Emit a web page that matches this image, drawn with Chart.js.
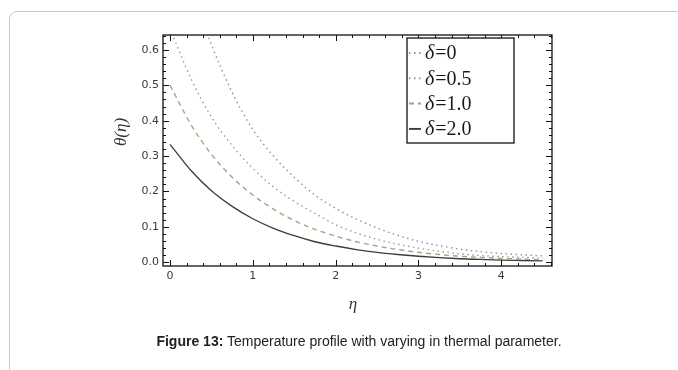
<!DOCTYPE html>
<html>
<head>
<meta charset="utf-8">
<script src="https://cdn.jsdelivr.net/npm/chart.js@4/dist/chart.umd.min.js"></script>
<style>
  body { margin: 0; background: #fff; }
  #wrap { position: relative; width: 678px; height: 370px; overflow: hidden; }
  #card { position: absolute; left: 9px; top: 11px; width: 700px; height: 400px;
          border: 1px solid #c9c9c9; border-radius: 8px; }
  #chart { position: absolute; left: 0; top: 0; }
  #caption { position: absolute; left: 20px; width: 678px; top: 333px; text-align: center;
             font-family: 'Liberation Sans', Arial, sans-serif; font-size: 14px; color: #222; }
</style>
</head>
<body>
<div id="wrap">
  <div id="card"></div>
  <canvas id="chart" width="678" height="370"></canvas>
  <div id="caption"><b>Figure 13:</b> Temperature profile with varying in thermal parameter.</div>
</div>
<script>
// eta samples and theta values
const etaValues = [0, 0.25, 0.5, 0.75, 1.0, 1.25, 1.5, 1.75, 2.0, 2.25, 2.5, 2.75, 3.0, 3.25, 3.5, 3.75, 4.0, 4.25, 4.5];
const thetaD0  = [1.0, 0.78, 0.615, 0.48, 0.375, 0.30, 0.24, 0.19, 0.152, 0.122, 0.097, 0.076, 0.059, 0.047, 0.037, 0.030, 0.025, 0.021, 0.018];
const thetaD05 = [0.66, 0.52, 0.41, 0.33, 0.265, 0.213, 0.172, 0.138, 0.106, 0.083, 0.065, 0.051, 0.040, 0.031, 0.024, 0.019, 0.016, 0.014, 0.012];
const thetaD10 = [0.50, 0.39, 0.305, 0.24, 0.19, 0.15, 0.118, 0.093, 0.074, 0.058, 0.046, 0.036, 0.028, 0.022, 0.017, 0.014, 0.011, 0.009, 0.007];
const thetaD20 = [0.333, 0.26, 0.202, 0.158, 0.123, 0.096, 0.075, 0.058, 0.046, 0.036, 0.028, 0.022, 0.017, 0.013, 0.010, 0.008, 0.006, 0.005, 0.004];
const seriesLabels = ['δ=0', 'δ=0.5', 'δ=1.0', 'δ=2.0'];
const xTickValues = [0, 1, 2, 3, 4];
const yTickValues = [0, 0.1, 0.2, 0.3, 0.4, 0.5, 0.6];

function points(ys) {
    return etaValues.map((x, i) => ({ x: x, y: ys[i] }));
}

const framePlugin = {
    id: 'frame',
    afterDraw(chart) {
        const ctx = chart.ctx;
        const a = chart.chartArea;
        const xs = chart.scales.x;
        const ys = chart.scales.y;
        ctx.save();
        ctx.strokeStyle = '#111';
        ctx.lineWidth = 1.3;
        ctx.strokeRect(a.left, a.top, a.right - a.left, a.bottom - a.top);

        // inward ticks on all four sides
        ctx.lineWidth = 1;
        ctx.beginPath();
        for (let i = 0; i <= 23; i++) {
            const px = Math.round(xs.getPixelForValue(i * 0.2)) + 0.5;
            const len = i % 5 === 0 ? 6 : 3;
            ctx.moveTo(px, a.bottom); ctx.lineTo(px, a.bottom - len);
            ctx.moveTo(px, a.top); ctx.lineTo(px, a.top + len);
        }
        for (let i = 0; i <= 32; i++) {
            const py = Math.round(ys.getPixelForValue(i * 0.02)) + 0.5;
            const len = i % 5 === 0 ? 6 : 3;
            ctx.moveTo(a.left, py); ctx.lineTo(a.left + len, py);
            ctx.moveTo(a.right, py); ctx.lineTo(a.right - len, py);
        }
        ctx.stroke();

        // axis titles
        ctx.fillStyle = '#333';
        ctx.font = 'italic 17px "Liberation Serif", serif';
        ctx.textAlign = 'center';
        ctx.textBaseline = 'middle';
        ctx.fillText('η', 353, 305);
        ctx.translate(122, 132);
        ctx.rotate(-Math.PI / 2);
        ctx.fillText('θ(η)', 0, 0);
        ctx.restore();

        // legend box
        ctx.save();
        ctx.fillStyle = '#fff';
        ctx.fillRect(407, 38, 107, 105);
        ctx.strokeStyle = '#111';
        ctx.lineWidth = 1.3;
        ctx.strokeRect(407, 38, 107, 105);
        chart.data.datasets.forEach((ds, i) => {
            const y = 53 + i * 25.3;
            ctx.strokeStyle = ds.borderColor;
            ctx.lineWidth = ds.borderWidth + 0.6;
            ctx.setLineDash(ds.borderDash || []);
            ctx.beginPath();
            ctx.moveTo(409, y); ctx.lineTo(421, y);
            ctx.stroke();
            ctx.setLineDash([]);
            ctx.fillStyle = '#1a1a1a';
            ctx.textAlign = 'left';
            ctx.textBaseline = 'middle';
            const sym = ds.label.slice(0, 1);
            const rest = ds.label.slice(1);
            ctx.font = 'italic 20px "Liberation Serif", serif';
            ctx.fillText(sym, 425, y + 1);
            const w = ctx.measureText(sym).width;
            ctx.font = '20px "Liberation Serif", serif';
            ctx.fillText(rest, 425 + w + 1, y + 1);
        });
        ctx.restore();
    }
};

new Chart(document.getElementById('chart'), {
    type: 'line',
    data: {
        datasets: [{
            label: seriesLabels[0],
            data: points(thetaD0),
            borderColor: '#8f8f9f',
            borderWidth: 1.4,
            borderDash: [1.5, 3.5],
            pointRadius: 0,
            cubicInterpolationMode: 'monotone'
        }, {
            label: seriesLabels[1],
            data: points(thetaD05),
            borderColor: '#9c9c9c',
            borderWidth: 1.4,
            borderDash: [1.5, 3.5],
            pointRadius: 0,
            cubicInterpolationMode: 'monotone'
        }, {
            label: seriesLabels[2],
            data: points(thetaD10),
            borderColor: '#aaa27f',
            borderWidth: 1.4,
            borderDash: [5, 4],
            pointRadius: 0,
            cubicInterpolationMode: 'monotone'
        }, {
            label: seriesLabels[3],
            data: points(thetaD20),
            borderColor: '#3c3c3c',
            borderWidth: 1.3,
            pointRadius: 0,
            cubicInterpolationMode: 'monotone'
        }]
    },
    options: {
        responsive: false,
        animation: false,
        layout: { padding: { left: 0, right: 126, top: 35, bottom: 0 } },
        plugins: { legend: { display: false }, tooltip: { enabled: false } },
        scales: {
            x: {
                type: 'linear',
                min: -0.085,
                max: 4.613,
                afterFit: s => { s.height = 104; },
                afterBuildTicks: s => { s.ticks = xTickValues.map(v => ({ value: v })); },
                grid: { display: false, drawTicks: false },
                border: { display: false },
                ticks: {
                    padding: 4,
                    color: '#3a3a3a',
                    font: { family: 'DejaVu Sans', size: 11 },
                    callback: v => String(v)
                }
            },
            y: {
                type: 'linear',
                min: -0.0105,
                max: 0.642,
                afterFit: s => { s.width = 163; },
                afterBuildTicks: s => { s.ticks = yTickValues.map(v => ({ value: v })); },
                grid: { display: false, drawTicks: false },
                border: { display: false },
                ticks: {
                    padding: 4,
                    color: '#3a3a3a',
                    font: { family: 'DejaVu Sans', size: 11 },
                    callback: v => v.toFixed(1)
                }
            }
        }
    },
    plugins: [framePlugin]
});
</script>
</body>
</html>
